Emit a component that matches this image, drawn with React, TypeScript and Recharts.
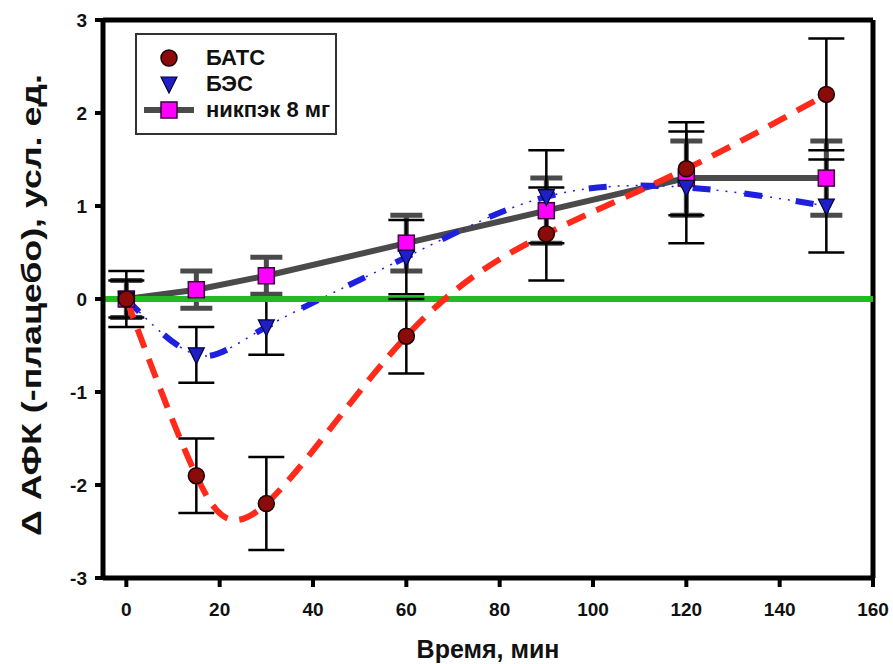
import React from "react";
import {
  LineChart, Line, XAxis, YAxis, ReferenceLine, ErrorBar, Legend, Label,
} from "recharts";

const times = [0, 15, 30, 60, 90, 120, 150];
const bats = [0, -1.9, -2.2, -0.4, 0.7, 1.4, 2.2];
const batsErr = [0.3, 0.4, 0.5, 0.4, 0.5, 0.5, 0.6];
const bes = [0, -0.6, -0.3, 0.45, 1.1, 1.2, 1.0];
const besErr = [0.2, 0.3, 0.3, 0.4, 0.5, 0.6, 0.5];
const nik = [0, 0.1, 0.25, 0.6, 0.95, 1.3, 1.3];
const nikErr = [0.2, 0.2, 0.2, 0.3, 0.35, 0.4, 0.4];

const xTicks = [0, 20, 40, 60, 80, 100, 120, 140, 160];
const yTicks = [-3, -2, -1, 0, 1, 2, 3];

const data = times.map((t, i) => ({
  t,
  bats: bats[i],
  batsErr: batsErr[i],
  bes: bes[i],
  besErr: besErr[i],
  nik: nik[i],
  nikErr: nikErr[i],
}));

const FONT = "'Liberation Sans', Arial, sans-serif";

const Circle = (p: any) => (
  <circle key={p.index} cx={p.cx} cy={p.cy} r={8} fill="#8b0a0a" stroke="#1a0000" strokeWidth={1.5} />
);
const Tri = (p: any) => (
  <path
    key={p.index}
    d={`M${p.cx - 8},${p.cy - 7} L${p.cx + 8},${p.cy - 7} L${p.cx},${p.cy + 9} Z`}
    fill="#1f1fc8"
    stroke="#000033"
    strokeWidth={1.2}
  />
);
const Square = (p: any) => (
  <rect key={p.index} x={p.cx - 8} y={p.cy - 8} width={16} height={16} fill="#ff00ff" stroke="#3a003a" strokeWidth={1.5} />
);

const XTick = ({ x, y, payload }: any) => (
  <text x={x} y={y} dy="0.75em" textAnchor="middle" fill="#111" fontSize={19} fontWeight={700} fontFamily={FONT}>
    {payload.value}
  </text>
);
const YTick = ({ x, y, payload }: any) => (
  <text x={x} y={y} dy="0.36em" textAnchor="end" fill="#111" fontSize={19} fontWeight={700} fontFamily={FONT}>
    {payload.value}
  </text>
);

// y title is stretched along its length in the original
const YTitle = (props: any) => {
  const vb = props.viewBox;
  const x = vb.x + 41;
  const y = vb.y + vb.height / 2 + 6;
  return (
    <text
      x={x}
      y={y}
      transform={`rotate(-90 ${x} ${y})`}
      textAnchor="middle"
      textLength={462}
      lengthAdjust="spacingAndGlyphs"
      fill="#111"
      fontSize={28}
      fontWeight={700}
      fontFamily={FONT}
    >
      Δ АФК (-плацебо), усл. ед.
    </text>
  );
};

function LegendBox() {
  const row = { display: "flex", alignItems: "center", height: 26 } as const;
  const txt = { fontFamily: FONT, fontWeight: 700, fontSize: 22, color: "#111", marginLeft: 12, whiteSpace: "nowrap" } as const;
  return (
    <div style={{ border: "2px solid #333", background: "#fff", width: 191, height: 88, boxSizing: "content-box", padding: "10px 0 0 7px" }}>
      <div style={row}>
        <svg width={50} height={20}><circle cx={25} cy={10} r={8} fill="#8b0a0a" stroke="#1a0000" strokeWidth={1.5} /></svg>
        <span style={txt}>БАТС</span>
      </div>
      <div style={row}>
        <svg width={50} height={20}><path d="M17,3 L33,3 L25,19 Z" fill="#1f1fc8" stroke="#000033" strokeWidth={1.2} /></svg>
        <span style={txt}>БЭС</span>
      </div>
      <div style={row}>
        <svg width={50} height={20}>
          <line x1={0} y1={10} x2={50} y2={10} stroke="#4a4a4a" strokeWidth={6} />
          <rect x={17} y={2} width={16} height={16} fill="#ff00ff" stroke="#3a003a" strokeWidth={1.5} />
        </svg>
        <span style={txt}>никпэк 8 мг</span>
      </div>
    </div>
  );
}

export default function App() {
  return (
    <div style={{ position: "absolute", left: 0, top: 0, background: "#fff" }}>
      <LineChart
        width={893}
        height={664}
        data={data}
        margin={{ top: 20, right: 20, left: 0, bottom: 0 }}
        style={{ fontFamily: FONT }}
      >
        <XAxis
          dataKey="t"
          type="number"
          domain={[-5, 160]}
          ticks={xTicks}
          allowDataOverflow
          height={86}
          axisLine={{ stroke: "#000", strokeWidth: 5 }}
          tickLine={{ stroke: "#000", strokeWidth: 4 }}
          tickSize={9}
          tickMargin={15}
          tick={XTick}
          label={{ value: "Время, мин", position: "insideBottom", offset: 6, fill: "#111", fontSize: 25, fontWeight: 700 }}
        />
        <YAxis
          type="number"
          domain={[-3, 3]}
          ticks={yTicks}
          width={103}
          axisLine={{ stroke: "#000", strokeWidth: 5 }}
          tickLine={{ stroke: "#000", strokeWidth: 4 }}
          tickSize={8}
          tickMargin={8}
          tick={YTick}
        >
          <Label content={YTitle} />
        </YAxis>
        <ReferenceLine y={3} stroke="#000" strokeWidth={5} />
        <ReferenceLine x={160} stroke="#000" strokeWidth={5} />
        <Legend
          layout="horizontal"
          verticalAlign="middle"
          align="center"
          wrapperStyle={{ position: "absolute", left: 135, top: 33, width: "auto" }}
          content={() => <LegendBox />}
        />
        <Line
          dataKey="nik"
          type="linear"
          stroke="#4a4a4a"
          strokeWidth={6}
          dot={Square}
          activeDot={false}
          isAnimationActive={false}
        >
          <ErrorBar dataKey="nikErr" width={16} strokeWidth={5} stroke="#4a4a4a" direction="y" />
        </Line>
        <Line
          dataKey="bes"
          type="natural"
          stroke="#1f1fe0"
          strokeWidth={1.5}
          strokeDasharray="2 7"
          dot={false}
          activeDot={false}
          legendType="none"
          isAnimationActive={false}
        />
        <Line
          dataKey="bes"
          type="natural"
          stroke="#1f1fe0"
          strokeWidth={6}
          strokeDasharray="18 34"
          dot={Tri}
          activeDot={false}
          isAnimationActive={false}
        >
          <ErrorBar dataKey="besErr" width={18} strokeWidth={2.5} stroke="#000" direction="y" />
        </Line>
        <ReferenceLine y={0} stroke="#22bb22" strokeWidth={6} />
        <Line
          dataKey="bats"
          type="natural"
          stroke="#ff2a1a"
          strokeWidth={6}
          strokeDasharray="20 12"
          dot={Circle}
          activeDot={false}
          isAnimationActive={false}
        >
          <ErrorBar dataKey="batsErr" width={18} strokeWidth={2.5} stroke="#000" direction="y" />
        </Line>
      </LineChart>
    </div>
  );
}
